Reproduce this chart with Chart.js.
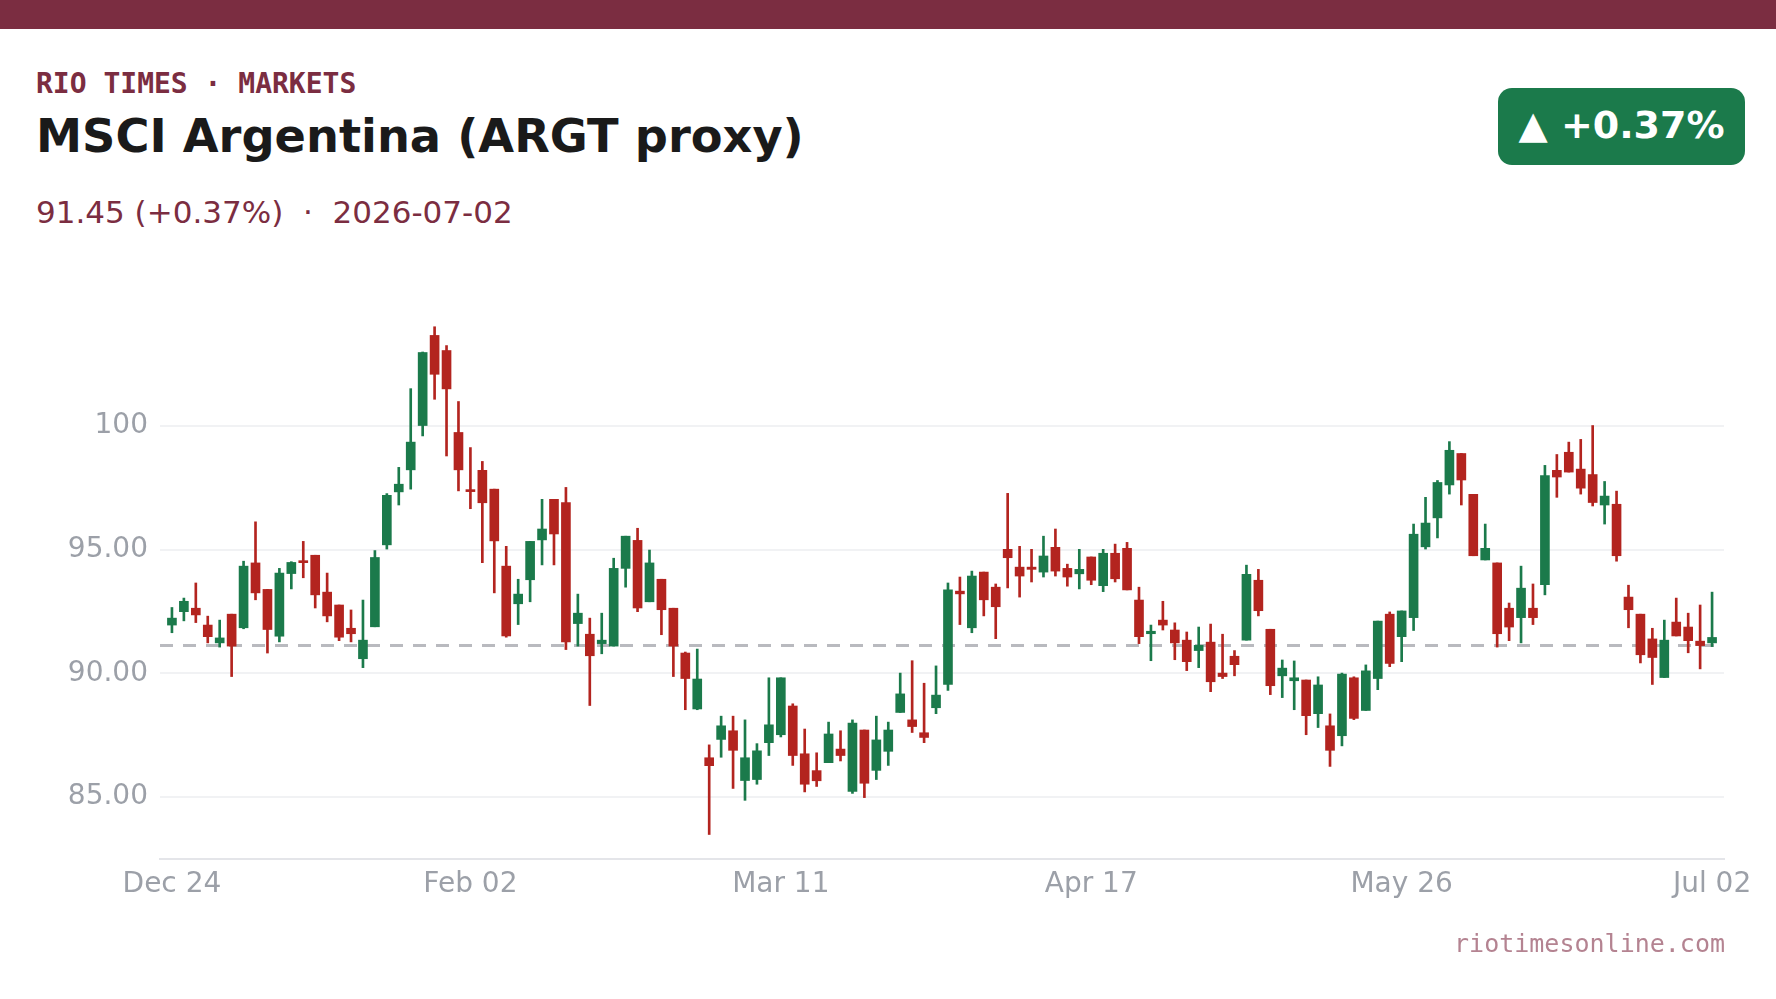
<!DOCTYPE html>
<html>
<head>
<meta charset="utf-8">
<script src="https://cdn.jsdelivr.net/npm/chart.js@4.4.1/dist/chart.umd.min.js"></script>
<style>
  html, body { margin: 0; padding: 0; background: #fff; }
  body { width: 1776px; height: 999px; position: relative; overflow: hidden; font-family: 'DejaVu Sans', sans-serif; }
  .topbar { position: absolute; left: 0; top: 0; width: 1776px; height: 29px; background: #7b2d41; }
  .kicker { position: absolute; left: 36px; top: 70px; font: bold 28px/1 'DejaVu Sans Mono', monospace; color: #7b2d41; }
  .title { position: absolute; left: 36px; top: 113px; font: bold 46.3px/1 'DejaVu Sans', sans-serif; color: #1a1a1a; }
  .sub { position: absolute; left: 36px; top: 197px; font: 31px/1 'DejaVu Sans', sans-serif; color: #7b2d41; white-space: pre; }
  .badge { position: absolute; left: 1498px; top: 88px; width: 247px; height: 77px; border-radius: 14px; background: #1b7a4b;
           color: #fff; font: bold 38px/1 'DejaVu Sans', sans-serif; display: flex; align-items: center; justify-content: center; box-sizing: border-box; padding-bottom: 3px; }
  .foot { position: absolute; right: 51px; top: 931px; font: 25px/1 'DejaVu Sans Mono', monospace; color: #b48391; }
  #wrap { position: absolute; left: 0; top: 240px; width: 1776px; height: 759px; }
</style>
</head>
<body>
<div class="topbar"></div>
<div class="kicker">RIO TIMES · MARKETS</div>
<div class="title">MSCI Argentina (ARGT proxy)</div>
<div class="sub">91.45 (+0.37%)  ·  2026-07-02</div>
<div class="badge">▲ +0.37%</div>
<div id="wrap"><canvas id="chart" width="1776" height="759"></canvas></div>
<div class="foot">riotimesonline.com</div>

<script>
/* ── DATA (daily OHLC, Dec 24 → Jul 02) ───────────── */
const opens = [
  91.95, 92.49, 92.63, 91.95, 91.23, 92.39, 91.84, 94.46, 93.39, 91.50,
  94.03, 94.53, 94.77, 93.28, 92.76, 91.82, 90.59, 91.88, 95.19, 97.33,
  98.22, 100.01, 103.65, 103.04, 99.73, 97.40, 98.20, 97.44, 94.33, 92.81,
  93.78, 95.39, 97.03, 96.90, 92.01, 91.58, 91.20, 91.10, 94.24, 95.37,
  92.89, 93.80, 92.63, 90.82, 88.56, 86.59, 87.33, 87.68, 85.67, 85.71,
  87.20, 87.52, 88.68, 86.75, 86.07, 86.39, 86.94, 85.23, 87.71, 86.08,
  86.85, 88.42, 88.12, 87.60, 88.61, 89.55, 93.32, 91.84, 94.09, 93.48,
  95.01, 94.29, 94.29, 94.09, 95.09, 94.24, 94.02, 94.70, 93.54, 94.85,
  95.05, 92.96, 91.60, 92.15, 91.75, 91.34, 90.92, 91.26, 90.01, 90.69,
  91.34, 93.76, 91.78, 89.90, 89.70, 89.73, 88.37, 87.88, 87.48, 89.82,
  88.50, 89.79, 92.39, 91.48, 92.25, 95.11, 96.28, 97.61, 98.88, 97.23,
  94.58, 94.46, 92.63, 92.25, 92.63, 93.58, 98.20, 98.93, 98.25, 98.03,
  96.80, 96.83, 93.08, 92.39, 91.39, 89.83, 92.07, 91.87, 91.30, 91.23
];
const highs = [
  92.66, 93.04, 93.65, 92.31, 92.15, 92.39, 94.53, 96.12, 93.39, 94.24,
  94.51, 95.33, 94.77, 94.05, 92.76, 92.56, 92.96, 94.96, 97.26, 98.32,
  101.50, 102.98, 104.00, 103.24, 100.98, 99.12, 98.56, 97.44, 95.13, 93.80,
  95.33, 97.03, 97.03, 97.51, 93.20, 92.23, 92.43, 94.65, 95.54, 95.86,
  94.98, 93.80, 92.63, 90.86, 90.98, 87.11, 88.27, 88.27, 88.12, 87.16,
  89.82, 89.82, 88.77, 87.75, 86.79, 88.03, 87.68, 88.12, 87.71, 88.27,
  88.03, 90.01, 90.51, 89.60, 90.30, 93.65, 93.89, 94.13, 94.09, 93.61,
  97.27, 95.13, 95.01, 95.54, 95.83, 94.41, 95.01, 94.70, 95.01, 95.22,
  95.29, 93.48, 91.95, 92.91, 92.04, 91.67, 91.87, 91.99, 91.58, 90.92,
  94.37, 94.20, 91.78, 90.54, 90.50, 89.73, 89.86, 88.36, 90.01, 89.86,
  90.34, 92.11, 92.48, 92.52, 96.03, 97.11, 97.79, 99.36, 98.88, 97.23,
  96.03, 94.46, 92.84, 94.33, 93.61, 98.40, 98.84, 99.34, 99.45, 100.01,
  97.75, 97.36, 93.56, 92.39, 91.82, 92.15, 93.04, 92.43, 92.76, 93.28
];
const lows = [
  91.64, 92.12, 92.05, 91.23, 91.06, 89.87, 91.80, 92.97, 90.82, 91.27,
  93.41, 93.86, 92.64, 92.08, 91.32, 91.27, 90.23, 91.88, 95.02, 96.80,
  97.44, 99.59, 101.07, 98.78, 97.37, 96.65, 94.47, 93.25, 91.46, 91.97,
  92.89, 94.38, 94.38, 90.96, 91.10, 88.70, 90.79, 91.10, 93.48, 92.49,
  92.89, 91.56, 89.87, 88.53, 88.53, 83.49, 86.61, 85.35, 84.87, 85.52,
  86.68, 87.43, 86.28, 85.21, 85.43, 86.39, 86.46, 85.15, 84.98, 85.71,
  86.28, 88.42, 87.61, 87.20, 88.37, 89.31, 91.97, 91.64, 92.32, 91.40,
  93.45, 93.08, 93.69, 93.89, 93.93, 93.52, 93.41, 93.58, 93.30, 93.69,
  93.37, 91.20, 90.51, 91.75, 90.55, 90.11, 90.23, 89.26, 89.79, 89.90,
  91.34, 92.32, 89.14, 89.02, 88.53, 87.52, 87.81, 86.24, 87.07, 88.13,
  88.50, 89.34, 90.27, 90.47, 91.73, 95.02, 95.47, 97.24, 96.80, 94.75,
  94.58, 91.06, 91.32, 91.23, 91.97, 93.17, 97.11, 98.13, 97.24, 96.76,
  96.03, 94.53, 91.84, 90.42, 89.55, 89.83, 91.51, 90.83, 90.18, 91.08
];
const closes = [
  92.23, 92.91, 92.36, 91.48, 91.43, 91.10, 94.33, 93.25, 91.77, 94.05,
  94.48, 94.47, 93.17, 92.32, 91.46, 91.60, 91.34, 94.68, 97.19, 97.64,
  99.34, 102.96, 102.08, 101.49, 98.22, 97.34, 96.89, 95.35, 91.51, 93.20,
  95.33, 95.83, 95.63, 91.27, 92.43, 90.71, 91.34, 94.24, 95.54, 92.64,
  94.46, 92.57, 91.10, 89.79, 89.77, 86.27, 87.88, 86.89, 86.59, 86.87,
  87.92, 89.82, 86.68, 85.52, 85.66, 87.55, 86.68, 87.99, 85.56, 87.31,
  87.71, 89.17, 87.85, 87.41, 89.12, 93.37, 93.21, 93.93, 92.97, 92.69,
  94.67, 93.93, 94.20, 94.74, 94.13, 93.89, 94.20, 93.76, 94.85, 93.82,
  93.37, 91.48, 91.70, 91.95, 91.23, 90.47, 91.13, 89.66, 89.87, 90.35,
  94.00, 92.53, 89.50, 90.21, 89.82, 88.29, 89.53, 86.89, 89.97, 88.18,
  90.10, 92.11, 90.40, 92.52, 95.62, 96.07, 97.71, 99.01, 97.81, 94.75,
  95.05, 91.60, 91.87, 93.44, 92.25, 97.99, 97.93, 98.13, 97.48, 96.90,
  97.16, 94.75, 92.57, 90.75, 90.64, 91.34, 91.51, 91.32, 91.12, 91.45
];
const prevClose = 91.12;

const tickIdx = [0, 25, 51, 77, 103, 129];
const tickLabels = ['Dec 24', 'Feb 02', 'Mar 11', 'Apr 17', 'May 26', 'Jul 02'];
const yTicks = [85, 90, 95, 100];

/* ── STYLE ─────────────────────────────────────────── */
const UP = '#1b7a4b';
const DOWN = '#b3241f';
const TICK = '#9ca0a8';
const FONT = "'DejaVu Sans', sans-serif";

const colors = closes.map((c, i) => c >= opens[i] ? UP : DOWN);
const bodies = closes.map((c, i) => ({ x: i, y: [opens[i], c] }));
const wicks = highs.map((h, i) => ({ x: i, y: [lows[i], h] }));
const n = closes.length;

new Chart(document.getElementById('chart'), {
    type: 'bar',
    data: {
        datasets: [
            {
                label: 'body',
                data: bodies,
                backgroundColor: colors,
                barThickness: 9,
                minBarLength: 2,
                grouped: false,
                order: 0
            },
            {
                label: 'wick',
                data: wicks,
                backgroundColor: colors,
                barThickness: 2,
                grouped: false,
                order: 1
            },
            {
                type: 'line',
                label: 'prev close',
                data: [{ x: -1, y: prevClose }, { x: n, y: prevClose }],
                borderColor: '#b9babf',
                borderWidth: 3,
                borderDash: [13, 10],
                pointRadius: 0,
                order: 2
            }
        ]
    },
    options: {
        responsive: false,
        animation: false,
        devicePixelRatio: 1,
        layout: { padding: { left: 0, right: 52, top: 62, bottom: 80 } },
        plugins: { legend: { display: false }, tooltip: { enabled: false } },
        scales: {
            x: {
                type: 'linear',
                min: -1,
                max: n,
                offset: false,
                grid: { display: false },
                border: { display: true, color: '#e4e5e9', width: 2 },
                afterBuildTicks: s => { s.ticks = tickIdx.map(v => ({ value: v })); },
                afterFit: s => { s.height = 60; },
                ticks: {
                    autoSkip: false,
                    maxRotation: 0,
                    padding: 1,
                    color: TICK,
                    font: { family: FONT, size: 28 },
                    callback: v => tickLabels[tickIdx.indexOf(v)]
                }
            },
            y: {
                min: 82.5,
                max: 105,
                grid: { color: '#f1f2f4', lineWidth: 2, drawTicks: false },
                border: { display: false },
                afterBuildTicks: s => { s.ticks = yTicks.map(v => ({ value: v })); },
                afterFit: s => { s.width = 160; },
                ticks: {
                    padding: 12,
                    color: TICK,
                    font: { family: FONT, size: 28 },
                    callback: v => v >= 100 ? String(v) : v.toFixed(2)
                }
            }
        }
    }
});
</script>
</body>
</html>
